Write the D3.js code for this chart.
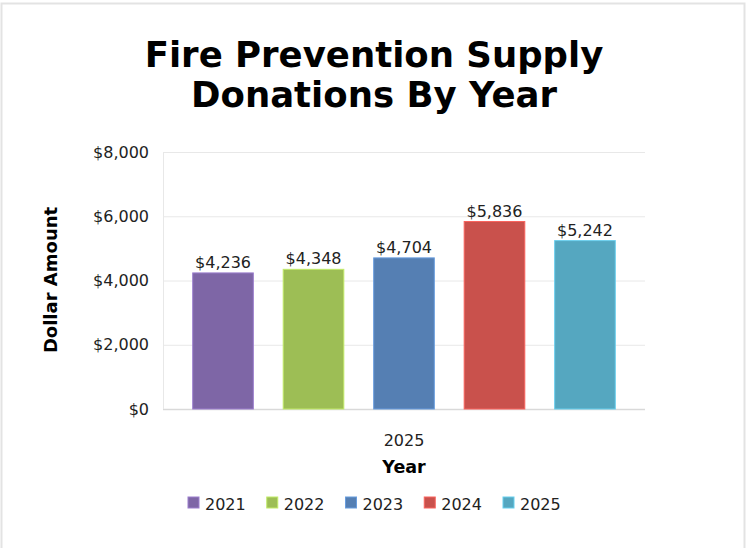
<!DOCTYPE html>
<html><head><meta charset="utf-8">
<script src="https://cdn.jsdelivr.net/npm/d3@7"></script>
<style>body{margin:0;background:#fff;} svg{display:block;}</style>
</head><body>
<svg id="c" width="746" height="548"></svg>
<script>
const categories = ["2025"];
const seriesNames = ["2021", "2022", "2023", "2024", "2025"];
const seriesValues = [4236, 4348, 4704, 5836, 5242];
const seriesColors = ["#7e66a6", "#9dbe55", "#557fb3", "#c9514c", "#55a7c0"];
const yTicks = [0, 2000, 4000, 6000, 8000];

const svg = d3.select("#c");
const W = 746, H = 548;
const m = {left: 163, right: 101, top: 152, bottom: 139};
const pw = W - m.left - m.right, ph = H - m.top - m.bottom;

// frame
svg.append("rect").attr("x", 1.5).attr("y", 3.5).attr("width", 743).attr("height", 560)
  .attr("fill", "#fff").attr("stroke", "#e3e3e3").attr("stroke-width", 2);

// title
const title = svg.append("text").attr("text-anchor", "middle")
  .attr("font-family", "DejaVu Sans").attr("font-weight", "bold").attr("font-size", 35.5).attr("fill", "#000");
title.append("tspan").attr("x", 374).attr("y", 67).text("Fire Prevention Supply");
title.append("tspan").attr("x", 374).attr("y", 107).text("Donations By Year");

const x0 = d3.scaleBand().domain(categories).range([m.left, m.left + pw]).paddingInner(0).paddingOuter(0.0703);
const x1 = d3.scaleBand().domain(seriesNames).range([0, x0.bandwidth()]).paddingInner(0.33).paddingOuter(0);
const y = d3.scaleLinear().domain([0, 8000]).range([m.top + ph, m.top]);

// grid
svg.append("g").selectAll("line").data(yTicks).join("line")
  .attr("x1", m.left).attr("x2", m.left + pw)
  .attr("y1", d => y(d) + 0.5).attr("y2", d => y(d) + 0.5)
  .attr("stroke", d => d === 0 ? "#d9d9d9" : "#e8e8e8").attr("stroke-width", d => d === 0 ? 1.5 : 1);
svg.append("line").attr("x1", m.left + 0.5).attr("x2", m.left + 0.5).attr("y1", m.top).attr("y2", m.top + ph)
  .attr("stroke", "#e8e8e8");

// y axis labels
const yAxis = d3.axisLeft(y).tickValues(yTicks).tickSize(0).tickPadding(14).tickFormat(d => "$" + d3.format(",")(d));
const ya = svg.append("g").attr("transform", `translate(${m.left},0)`).call(yAxis);
ya.select(".domain").remove();
ya.selectAll("text").attr("font-family", "DejaVu Sans").attr("font-size", 16).attr("fill", "#222");

// x axis labels
const xAxis = d3.axisBottom(x0).tickSize(0).tickPadding(26);
const xa = svg.append("g").attr("transform", `translate(0,${m.top + ph})`).call(xAxis);
xa.select(".domain").remove();
xa.selectAll("text").attr("font-family", "DejaVu Sans").attr("font-size", 16).attr("fill", "#222");

// bars
const g = svg.append("g");
const data = seriesNames.map((s, i) => ({s, v: seriesValues[i], c: seriesColors[i], cat: categories[0]}));
g.selectAll("rect").data(data).join("rect")
  .attr("x", d => x0(d.cat) + x1(d.s))
  .attr("y", d => y(d.v))
  .attr("width", x1.bandwidth())
  .attr("height", d => y(0) - y(d.v))
  .attr("fill", d => d.c)
  .attr("stroke", d => d3.color(d.c).brighter(0.6))
  .attr("stroke-width", 1);
g.selectAll("text").data(data).join("text")
  .attr("x", d => x0(d.cat) + x1(d.s) + x1.bandwidth() / 2)
  .attr("y", d => y(d.v) - 5)
  .attr("text-anchor", "middle")
  .attr("font-family", "DejaVu Sans").attr("font-size", 16).attr("fill", "#222")
  .text(d => "$" + d3.format(",")(d.v));

// axis titles
svg.append("text").attr("x", m.left + pw / 2).attr("y", 472.5).attr("text-anchor", "middle")
  .attr("font-family", "DejaVu Sans").attr("font-weight", "bold").attr("font-size", 17.5).attr("fill", "#000")
  .text("Year");
svg.append("text").attr("transform", "translate(57,280) rotate(-90)").attr("text-anchor", "middle")
  .attr("font-family", "DejaVu Sans").attr("font-weight", "bold").attr("font-size", 18).attr("fill", "#000")
  .text("Dollar Amount");

// legend
const lg = svg.append("g");
const lx = d3.scalePoint().domain(seriesNames).range([188, 503]);
const items = lg.selectAll("g").data(data).join("g").attr("transform", d => `translate(${lx(d.s)},497)`);
items.append("rect").attr("width", 11).attr("height", 11).attr("fill", d => d.c)
  .attr("stroke", d => d3.color(d.c).brighter(0.6)).attr("stroke-width", 1);
items.append("text").attr("x", 17).attr("y", 13).attr("font-family", "DejaVu Sans").attr("font-size", 16)
  .attr("fill", "#222").text(d => d.s);
</script>
</body></html>
